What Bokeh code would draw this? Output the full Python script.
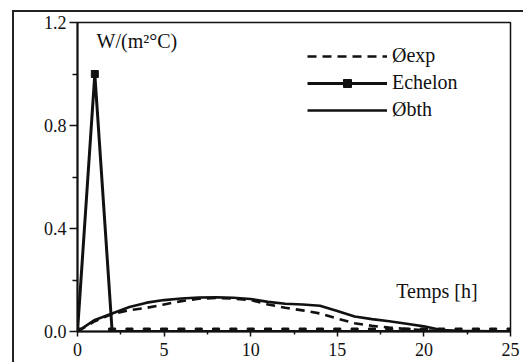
from bokeh.plotting import figure
from bokeh.models import FixedTicker, PrintfTickFormatter, Label, Legend, LegendItem
from bokeh.embed import file_html
from bokeh.resources import INLINE

# ---- data ----
hours = [0, 1, 2, 3, 4, 5, 6, 7, 8, 9, 10, 11, 12, 13, 14, 15, 16, 17, 18, 19, 20, 21, 22, 23, 24, 25]
phi_exp = [0, 0.04, 0.068, 0.083, 0.092, 0.105, 0.118, 0.127, 0.13, 0.128, 0.122, 0.105, 0.092,
           0.082, 0.07, 0.05, 0.032, 0.022, 0.015, 0.01, 0.005, 0.002, 0.001, 0, 0, 0]
phi_bth = [0, 0.045, 0.07, 0.095, 0.112, 0.122, 0.128, 0.132, 0.133, 0.131, 0.126, 0.115, 0.108,
           0.105, 0.1, 0.08, 0.058, 0.048, 0.04, 0.03, 0.02, 0.006, 0.003, 0.002, 0.001, 0]
echelon = [0, 1.0, 0, 0, 0, 0, 0, 0, 0, 0, 0, 0, 0, 0, 0, 0, 0, 0, 0, 0, 0, 0, 0, 0, 0, 0]
x_ticks = [0, 5, 10, 15, 20, 25]
x_minor = [2.5, 7.5, 12.5, 17.5, 22.5]
y_ticks = [0, 0.4, 0.8, 1.2]
y_minor = [0.2, 0.6, 1.0]
series_names = ["Øexp", "Echelon", "Øbth"]
y_unit = "W/(m²°C)"
x_title = "Temps [h]"

FONT = "Liberation Serif"
INK = "#111111"

p = figure(width=511, height=352, x_range=(0, 25), y_range=(0, 1.2),
           output_backend="svg", toolbar_location=None,
           min_border_left=63, min_border_right=15, min_border_top=10, min_border_bottom=33)
# outer frame of the scanned figure
p.styles = {"border-left": "2px solid #222", "border-top": "2px solid #222",
            "margin-left": "12px", "margin-top": "10px"}

p.xgrid.visible = False
p.ygrid.visible = False
p.outline_line_color = INK
p.outline_line_width = 1.5
p.background_fill_color = "white"
p.border_fill_color = "white"

for ax in (p.xaxis[0], p.yaxis[0]):
    ax.axis_line_color = INK
    ax.axis_line_width = 2
    ax.major_tick_line_color = INK
    ax.minor_tick_line_color = INK
    ax.major_tick_line_width = 1.5
    ax.minor_tick_line_width = 1.5
    ax.major_tick_in = 0
    ax.minor_tick_in = 0
    ax.major_label_text_font = FONT
    ax.major_label_text_font_size = "18px"
    ax.major_label_text_color = INK

p.xaxis.ticker = FixedTicker(ticks=x_ticks, minor_ticks=x_minor)
p.yaxis.ticker = FixedTicker(ticks=y_ticks, minor_ticks=y_minor)
p.yaxis.formatter = PrintfTickFormatter(format="%.1f")
p.xaxis.major_tick_out = 5
p.xaxis.minor_tick_out = 3
p.yaxis.major_tick_out = 8
p.yaxis.minor_tick_out = 5
p.xaxis.major_label_standoff = 6
p.yaxis.major_label_standoff = 3

r_exp = p.line(hours, phi_exp, line_color=INK, line_width=2.6, line_dash="9 6")
r_ech_l = p.line(hours, echelon, line_color=INK, line_width=3)
r_ech_m = p.scatter(hours, echelon, marker="square", size=7, fill_color=INK, line_color=INK)
r_bth = p.line(hours, phi_bth, line_color=INK, line_width=2.6)

legend = Legend(items=[
    LegendItem(label=series_names[0], renderers=[r_exp]),
    LegendItem(label=series_names[1], renderers=[r_ech_l, r_ech_m]),
    LegendItem(label=series_names[2], renderers=[r_bth]),
], location=(230, 210))
legend.border_line_color = None
legend.background_fill_alpha = 0
legend.padding = 0
legend.spacing = 4
legend.glyph_width = 80
legend.glyph_height = 20
legend.label_height = 20
legend.label_standoff = 5
legend.label_text_font = FONT
legend.label_text_font_size = "20px"
legend.label_text_color = INK
p.add_layout(legend)

p.add_layout(Label(x=1.1, y=1.13, text=y_unit, text_font=FONT, text_font_size="20px",
                   text_baseline="middle", text_color=INK))
p.add_layout(Label(x=18.4, y=0.156, text=x_title, text_font=FONT, text_font_size="20px",
                   text_baseline="middle", text_color=INK))

open("out.html", "w").write(file_html(p, INLINE))
